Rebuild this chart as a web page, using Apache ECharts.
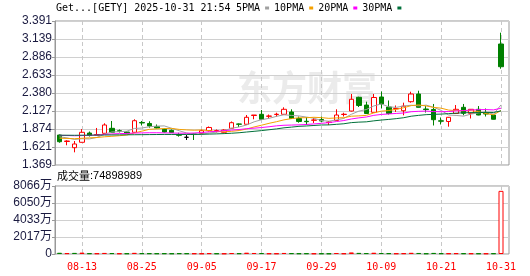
<!DOCTYPE html>
<html><head><meta charset="utf-8">
<script src="https://cdn.jsdelivr.net/npm/echarts@6/dist/echarts.min.js"></script>
<style>html,body{margin:0;padding:0;background:#fff}#c{width:530px;height:276px}</style>
</head><body><div id="c"></div>
<script>
const dates = ['08-08','08-11','08-12','08-13','08-14','08-15','08-18','08-19','08-20','08-21','08-22','08-25','08-26','08-27','08-28','08-29',
'09-02','09-03','09-04','09-05','09-08','09-09','09-10','09-11','09-12','09-15','09-16','09-17','09-18','09-19','09-22','09-23','09-24','09-25','09-26','09-29','09-30',
'10-01','10-02','10-03','10-06','10-07','10-08','10-09','10-10','10-13','10-14','10-15','10-16','10-17','10-20','10-21','10-22','10-23','10-24','10-27','10-28','10-29','10-30','10-31'];
const opens = [1.790,1.699,1.612,1.688,1.818,1.790,1.814,1.884,1.850,1.832,1.828,1.966,1.952,1.907,1.870,1.856,1.797,1.758,1.804,1.814,1.851,1.839,1.828,1.884,1.945,1.941,2.064,2.081,2.053,2.078,2.081,2.113,2.022,1.983,1.997,2.008,1.966,1.994,2.078,2.127,2.320,2.211,2.109,2.324,2.183,2.158,2.131,2.258,2.366,2.155,2.148,1.990,1.980,2.092,2.179,2.095,2.151,2.106,2.071,3.068];
const closes = [1.696,1.706,1.664,1.828,1.783,1.797,1.931,1.828,1.844,1.818,1.991,1.959,1.917,1.889,1.832,1.825,1.786,1.758,1.797,1.851,1.896,1.853,1.860,1.963,1.941,2.039,2.071,2.011,2.057,2.082,2.151,2.022,1.980,1.977,2.001,1.987,1.973,2.071,2.082,2.292,2.205,2.092,2.317,2.226,2.092,2.162,2.195,2.366,2.179,2.148,2.005,1.984,2.039,2.151,2.095,2.151,2.071,2.085,2.011,2.749];
const lows = [1.682,1.646,1.547,1.685,1.769,1.790,1.811,1.825,1.825,1.811,1.825,1.924,1.893,1.882,1.825,1.818,1.767,1.720,1.720,1.811,1.839,1.825,1.825,1.882,1.903,1.938,2.011,2.008,2.029,2.047,2.078,2.015,1.963,1.931,1.959,1.973,1.931,1.987,2.050,2.120,2.183,2.085,2.106,2.165,2.078,2.113,2.067,2.244,2.176,2.106,1.924,1.938,1.907,2.089,2.067,2.022,2.067,2.050,2.008,2.721];
const highs = [1.797,1.716,1.706,1.874,1.839,1.889,1.955,1.987,1.868,1.839,2.011,1.987,1.983,1.938,1.882,1.868,1.822,1.790,1.811,1.868,1.910,1.868,1.870,1.980,1.952,2.071,2.071,2.141,2.078,2.103,2.179,2.151,2.050,2.043,2.029,2.050,1.987,2.151,2.103,2.366,2.328,2.258,2.366,2.401,2.275,2.205,2.244,2.398,2.412,2.197,2.226,2.036,2.043,2.211,2.226,2.155,2.197,2.162,2.071,3.227];
const ma5 = [1.765,1.750,1.728,1.738,1.735,1.756,1.801,1.833,1.837,1.844,1.882,1.888,1.906,1.915,1.918,1.884,1.850,1.818,1.800,1.803,1.818,1.831,1.851,1.885,1.903,1.931,1.975,2.005,2.024,2.052,2.074,2.065,2.058,2.042,2.026,1.993,1.984,2.002,2.023,2.081,2.125,2.148,2.198,2.226,2.186,2.178,2.198,2.208,2.199,2.210,2.179,2.136,2.071,2.065,2.055,2.084,2.101,2.111,2.083,2.213];
const ma10 = [1.745,1.742,1.738,1.745,1.750,1.755,1.765,1.772,1.780,1.790,1.819,1.844,1.870,1.876,1.881,1.883,1.869,1.862,1.857,1.861,1.851,1.840,1.835,1.842,1.853,1.874,1.903,1.928,1.954,1.977,2.003,2.020,2.032,2.033,2.039,2.034,2.024,2.030,2.033,2.054,2.059,2.066,2.100,2.125,2.134,2.151,2.173,2.203,2.213,2.198,2.178,2.167,2.140,2.132,2.132,2.131,2.119,2.091,2.074,2.134];
const ma20 = [1.785,1.783,1.780,1.782,1.785,1.790,1.798,1.805,1.810,1.812,1.818,1.820,1.822,1.822,1.820,1.818,1.816,1.815,1.818,1.825,1.835,1.842,1.852,1.859,1.867,1.879,1.886,1.895,1.906,1.919,1.927,1.930,1.933,1.938,1.946,1.954,1.964,1.979,1.993,2.015,2.031,2.043,2.066,2.079,2.086,2.093,2.099,2.117,2.123,2.126,2.119,2.117,2.120,2.128,2.133,2.141,2.146,2.147,2.143,2.166];
const ma30 = [1.787,1.787,1.786,1.787,1.788,1.789,1.790,1.791,1.792,1.793,1.794,1.795,1.796,1.797,1.798,1.798,1.798,1.798,1.799,1.800,1.803,1.806,1.810,1.815,1.822,1.832,1.842,1.852,1.864,1.876,1.891,1.901,1.912,1.917,1.924,1.931,1.932,1.940,1.948,1.964,1.971,1.975,1.989,2.000,2.009,2.020,2.033,2.054,2.066,2.076,2.080,2.084,2.090,2.097,2.102,2.105,2.105,2.108,2.106,2.129];
const volumes = [1450000,980000,1320000,1610000,870000,760000,1280000,1050000,690000,720000,
1390000,940000,880000,760000,830000,690000,910000,820000,770000,640000,
990000,720000,610000,1120000,860000,1540000,1210000,1080000,730000,690000,
1260000,980000,760000,830000,650000,700000,620000,1180000,740000,1870000,
1320000,1060000,1490000,1150000,980000,720000,880000,1420000,1230000,690000,
1310000,870000,790000,960000,840000,770000,720000,650000,830000,74898989];
const dateTicks = ['08-13','08-25','09-05','09-17','09-29','10-09','10-21','10-31'];
const priceTicks = ['1.369','1.621','1.874','2.127','2.380','2.633','2.886','3.139','3.391'];
const volTicks = ['0','2017万','4033万','6050万','8066万'];
const priceMin = 1.369, priceMax = 3.391;
const volMax = 80660000;
const maNames = ['5PMA','10PMA','20PMA','30PMA'];
const headerText = 'Get...[GETY] 2025-10-31 21:54';
const volLabel = '成交量';
const watermark = '东方财富';

const UP = '#ff0000', DOWN = '#008000';
const maColors = ['#a0a0a0','#f5a000','#ff00ff','#00703a'];
const mono = 'DejaVu Sans Mono';
const sans = 'Liberation Sans, Noto Sans CJK SC';
const isTick = (i) => dateTicks.indexOf(dates[i]) >= 0;

const candleData = dates.map((d, i) => [opens[i], closes[i], lows[i], highs[i]]);
const volData = volumes.map((v, i) => {
  const up = closes[i] >= (i > 0 ? closes[i - 1] : opens[i]);
  return {value: v, itemStyle: up ? {color: '#ffffff', borderColor: UP, borderWidth: 1} : {color: DOWN, borderColor: DOWN, borderWidth: 1}};
});

const chart = echarts.init(document.getElementById('c'), null, {renderer: 'canvas'});
const vSplit = {show: true, interval: (i) => isTick(i), lineStyle: {color: '#c8c8c8', type: [4, 3], width: 1}};
const option = {
  animation: false,
  backgroundColor: '#ffffff',
  title: [
    {text: headerText, left: 56, top: 3, padding: 0, textStyle: {fontFamily: mono, fontSize: 10, fontWeight: 'normal', color: '#000'}},
    {text: '{a|' + volLabel + '}{b|:' + volumes[volumes.length - 1] + '}', left: 57, top: 170, padding: 0,
     textStyle: {fontWeight: 'normal', rich: {a: {fontFamily: 'Noto Sans CJK SC', fontSize: 11, fontWeight: 'normal', color: '#000'}, b: {fontFamily: 'Liberation Sans', fontSize: 11, fontWeight: 'normal', color: '#000'}}}}
  ],
  legend: {left: 236, top: 3, padding: 0, icon: 'rect', itemWidth: 4, itemHeight: 3, itemGap: 5, align: 'right', selectedMode: false,
    data: maNames, textStyle: {fontFamily: mono, fontSize: 10, color: '#000'}},
  graphic: [
    {type: 'text', left: 237, top: 70, z: 0, silent: true, style: {text: watermark, font: 'bold 35px "Noto Sans CJK SC"', fill: '#ebebeb'}}
  ],
  grid: [
    {left: 59.5, top: 21, width: 441.5, height: 144},
    {left: 55, top: 21, width: 454, height: 144, show: true, borderColor: '#999', borderWidth: 1, backgroundColor: 'transparent'},
    {left: 59.5, top: 186, width: 441.5, height: 68},
    {left: 55, top: 186, width: 454, height: 68, show: true, borderColor: '#999', borderWidth: 1, backgroundColor: 'transparent'}
  ],
  xAxis: [
    {gridIndex: 0, type: 'category', data: dates, boundaryGap: false, axisLine: {show: false}, axisTick: {show: false}, axisLabel: {show: false}, splitLine: vSplit},
    {gridIndex: 1, type: 'value', show: false},
    {gridIndex: 2, type: 'category', data: dates, boundaryGap: false, axisLine: {show: false}, axisTick: {show: false},
     axisLabel: {show: true, interval: (i) => isTick(i), color: '#ff0000', fontFamily: mono, fontSize: 10, margin: 8}, splitLine: vSplit},
    {gridIndex: 3, type: 'value', show: false}
  ],
  yAxis: [
    {gridIndex: 0, type: 'value', min: priceMin, max: priceMax, show: false},
    {gridIndex: 1, type: 'value', min: priceMin, max: priceMax, interval: (priceMax - priceMin) / 8,
     axisLine: {show: true, lineStyle: {color: '#999'}}, axisTick: {show: true, length: 3, lineStyle: {color: '#999'}},
     axisLabel: {margin: 3, formatter: (v, i) => priceTicks[i], color: '#1a1a40', fontFamily: sans, fontSize: 12},
     splitLine: {show: true, lineStyle: {color: '#d0d0d0', width: 1}}},
    {gridIndex: 2, type: 'value', min: 0, max: volMax, show: false},
    {gridIndex: 3, type: 'value', min: 0, max: volMax, interval: volMax / 4,
     axisLine: {show: true, lineStyle: {color: '#999'}}, axisTick: {show: true, length: 3, lineStyle: {color: '#999'}},
     axisLabel: {margin: 3, formatter: (v, i) => volTicks[i], color: '#1a1a40', fontFamily: sans, fontSize: 12},
     splitLine: {show: true, lineStyle: {color: '#d0d0d0', width: 1}}}
  ],
  series: [
    {type: 'candlestick', xAxisIndex: 0, yAxisIndex: 0, data: candleData, barWidth: 5, clip: false, z: 3,
     itemStyle: {color: '#ffffff', color0: DOWN, borderColor: UP, borderColor0: DOWN, borderColorDoji: '#000000', borderWidth: 1}},
    ...[ma5, ma10, ma20, ma30].map((d, k) => ({
      type: 'line', name: maNames[k], xAxisIndex: 0, yAxisIndex: 0, data: d, symbol: 'none', showSymbol: false, z: 4,
      lineStyle: {width: 1, color: maColors[k]}, itemStyle: {color: maColors[k]}
    })),
    {type: 'bar', xAxisIndex: 2, yAxisIndex: 2, data: volData, barWidth: 5, clip: false, z: 3}
  ]
};
chart.setOption(option);
</script></body></html>
